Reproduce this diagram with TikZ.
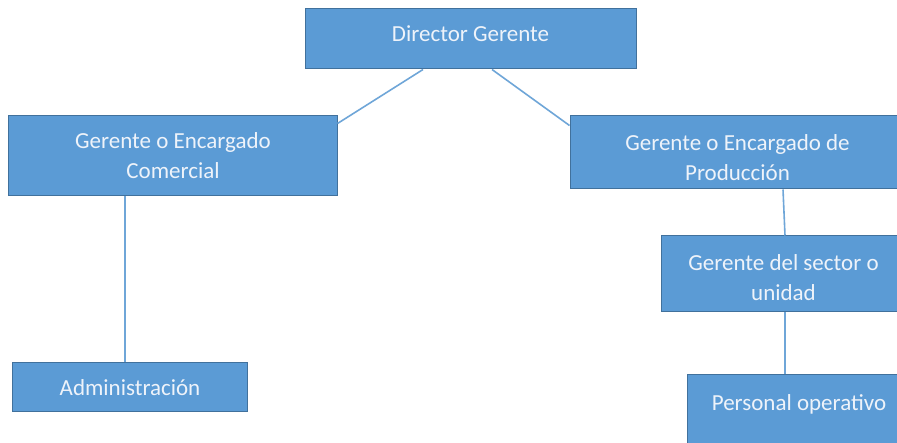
\documentclass[tikz,border=0pt]{standalone}
\usepackage{fontspec}
\setmainfont{Carlito}
\usetikzlibrary{calc}
\definecolor{boxfill}{HTML}{5B9BD5}
\definecolor{boxline}{HTML}{41719C}
\definecolor{linkc}{HTML}{6FA6D8}
\definecolor{txt}{HTML}{EEF3FA}
\tikzset{
  orgbox/.style={rectangle, draw=boxline, fill=boxfill, line width=1bp, text=txt,
    align=center, inner sep=0pt, font=\fontsize{23bp}{30bp}\selectfont},
  link/.style={draw=linkc, line width=1.6bp}
}
\begin{document}
\begin{tikzpicture}[x=1bp,y=-1bp]
\useasboundingbox (0,0) rectangle (897,443);
\clip (0,0) rectangle (897,443);
\fill[white] (0,0) rectangle (897,443);
\node[orgbox, minimum width=331bp, minimum height=60bp, text height=5.4bp, text depth=0bp] (dir) at (470.5,39) {Director Gerente};
\node[orgbox, minimum width=328bp, minimum height=80bp] (com) at (173,156) {Gerente o Encargado\\Comercial};
\node[orgbox, minimum width=335bp, minimum height=73bp] (prod) at (737.5,152.5) {\rule{0pt}{26.6bp}Gerente o Encargado de\\Producción};
\node[orgbox, minimum width=245bp, minimum height=76bp] (sec) at (783.5,274) {\rule{0pt}{22.6bp}Gerente del sector o\\unidad};
\node[orgbox, minimum width=234bp, minimum height=48bp, text height=16bp, text depth=0bp] (adm) at (130,387) {Administración};
\node[orgbox, minimum width=224bp, text height=36bp, text depth=60bp, anchor=north] (per) at (799,374) {Personal operativo};
\coordinate (comA) at ($(adm.north)+(-5,0)$);
\coordinate (comB) at (comA |- com.south);
\coordinate (secA) at ($(sec.south)+(1.5,0)$);
\coordinate (secB) at (secA |- per.north);
\draw[link] ($(dir.south)+(-47.5,0)$) -- ($(com.north east)+(0,8)$);
\draw[link] ($(dir.south)+(21.5,0)$) -- ($(prod.north west)+(0,10)$);
\draw[link] (comB) -- (comA);
\draw[link] ($(prod.south)+(45.5,0)$) -- ($(sec.north)+(1.5,0)$);
\draw[link] (secA) -- (secB);
\end{tikzpicture}
\end{document}
